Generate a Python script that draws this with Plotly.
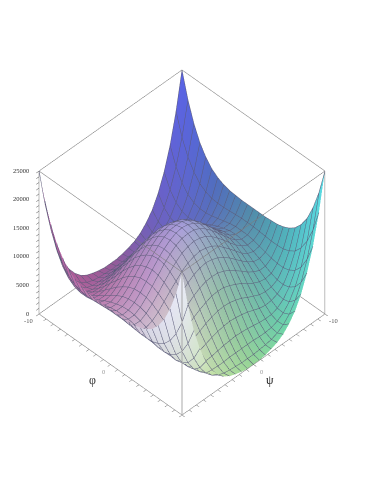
import numpy as np
import plotly.graph_objects as go

# Axis samples for one quadrant (0 .. 10), estimated surface heights
quad_axis = [0, 0.833, 1.667, 2.5, 3.333, 4.167, 5, 5.833, 6.667, 7.5, 8.333, 9.167, 10]
# rows: |phi|, columns: |psi|
z_quadrant = [
 [15100,14900,14400,13600,12600,11400,10100,8900,7900,7300,7200,7900,9600],
 [14800,14700,14200,13400,12400,11200,10000,8800,7800,7200,7200,7900,9600],
 [14200,14000,13600,12800,11800,10700,9500,8400,7500,6900,7000,7800,9600],
 [13200,13000,12600,11900,10900,9900,8800,7700,6900,6500,6700,7700,9700],
 [11900,11700,11300,10600,9800,8800,7800,6900,6200,6000,6400,7600,9800],
 [10200,10100,9700,9100,8300,7500,6600,5900,5400,5400,6100,7600,10100],
 [8400,8300,7900,7400,6800,6000,5400,4900,4700,4900,5900,7700,10600],
 [6500,6400,6100,5700,5100,4600,4100,3900,4000,4500,5900,8100,11400],
 [4600,4500,4300,4000,3600,3200,3000,3100,3500,4400,6200,8800,12700],
 [2800,2700,2600,2400,2200,2100,2100,2500,3300,4700,6900,10100,14500],
 [1300,1300,1300,1200,1200,1300,1700,2400,3600,5500,8200,12000,17100],
 [300,300,400,500,700,1100,1800,2900,4600,7000,10300,14700,20500],
 [0,0,200,500,900,1600,2700,4200,6400,9400,13300,18500,25000],
]
z_major = [0, 5000, 10000, 15000, 20000, 25000]
z_major_text = ["0", "5000", "10000", "15000", "20000", "25000"]
xy_tick_vals = [-10, -9, -8, -7, -6, -5, -4, -3, -2, -1, 0, 1, 2, 3, 4, 5, 6, 7, 8, 9, 10]

# Colour control points: rows phi -10..10, columns psi -10..10
colour_nodes = [-10, -5, 0, 5, 10]
colour_grid = [
 [(90,100,230),(115,95,185),(150,90,150),(170,90,150),(180,90,160)],
 [(80,110,190),(110,110,190),(140,120,190),(180,120,170),(190,110,170)],
 [(80,140,170),(120,150,180),(170,160,220),(190,150,200),(200,160,190)],
 [(80,180,190),(110,180,170),(150,190,170),(215,215,200),(215,215,230)],
 [(90,220,230),(110,215,170),(150,215,150),(190,225,160),(235,235,250)],
]

q = np.array(z_quadrant, float)
half = np.vstack([q[:0:-1], q])
Z = np.hstack([half[:, :0:-1], half])
qa = np.array(quad_axis)
axis = np.concatenate([-qa[:0:-1], qa])
n = len(axis)
PSI, PHI = np.meshgrid(axis, axis)   # rows phi, columns psi

# vertex colours
cg = np.array(colour_grid, float)
fr = np.interp(PHI.ravel(), colour_nodes, range(5))
fc = np.interp(PSI.ravel(), colour_nodes, range(5))
r0 = np.minimum(fr.astype(int), 3); c0 = np.minimum(fc.astype(int), 3)
tr = (fr - r0)[:, None]; tc = (fc - c0)[:, None]
col = (cg[r0, c0]*(1-tr)*(1-tc) + cg[r0+1, c0]*tr*(1-tc)
       + cg[r0, c0+1]*(1-tr)*tc + cg[r0+1, c0+1]*tr*tc)
vcolors = [f"rgb({int(a)},{int(b)},{int(c)})" for a, b, c in col]

idx = np.arange(n*n).reshape(n, n)
a = idx[:-1, :-1].ravel(); b = idx[:-1, 1:].ravel()
c = idx[1:, 1:].ravel(); d = idx[1:, :-1].ravel()
I = np.concatenate([a, a]); J = np.concatenate([b, c]); K = np.concatenate([c, d])

fig = go.Figure()
fig.add_trace(go.Mesh3d(x=PSI.ravel(), y=PHI.ravel(), z=Z.ravel(), i=I, j=J, k=K,
                        vertexcolor=vcolors, flatshading=False, hoverinfo="skip",
                        lighting=dict(ambient=1, diffuse=0, specular=0, fresnel=0, roughness=1)))

step = 20/(n-1)
line_style = dict(show=True, start=-10, end=10, size=step, color="rgba(40,40,70,0.8)", width=1,
                  highlight=False)
fig.add_trace(go.Surface(x=axis, y=axis, z=Z, hidesurface=True, showscale=False, hoverinfo="skip",
                         colorscale=[[0, "#888888"], [1, "#888888"]],
                         contours=dict(x=line_style, y=line_style)))

# Box frame: the twelve edges of the axis ranges, with the near vertical edge drawn heavier
xr, yr, zr = (-10, 10), (-10, 10), (0, 25000)
bx, by, bz = [], [], []
for v in yr:
    for w in zr:
        bx += [xr[0], xr[1], None]; by += [v, v, None]; bz += [w, w, None]
for u in xr:
    for w in zr:
        bx += [u, u, None]; by += [yr[0], yr[1], None]; bz += [w, w, None]
for u in xr:
    for v in yr:
        if (u, v) != (xr[1], yr[1]):
            bx += [u, u, None]; by += [v, v, None]; bz += [zr[0], zr[1], None]
fig.add_trace(go.Scatter3d(x=bx, y=by, z=bz, mode="lines", hoverinfo="skip", showlegend=False,
                           line=dict(color="#7c7c7c", width=1)))
fig.add_trace(go.Scatter3d(x=[xr[1], xr[1]], y=[yr[1], yr[1]], z=list(zr), mode="lines",
                           hoverinfo="skip", showlegend=False,
                           line=dict(color="#a8a8a8", width=2)))

z_vals = list(range(0, 25001, 1000))
base_axis = dict(showbackground=False, showgrid=False, zeroline=False, showspikes=False,
                 showline=True, linecolor="#7c7c7c", linewidth=1, mirror=True,
                 ticks="outside", ticklen=4, tickcolor="#777777", tickwidth=1,
                 showticklabels=False, title=dict(text=""))

# Labels placed in page pixels (the page body adds an 8 px offset to the figure)
W, H, OFF = 374, 484, 8
def label(text, px, py, size, color, anchor="center"):
    return dict(text=text, x=(px-OFF)/W, y=1-(py-OFF)/H, xref="paper", yref="paper",
                showarrow=False, xanchor=anchor, yanchor="middle",
                font=dict(family="Liberation Serif", size=size, color=color))

notes = [label("φ", 92, 380, 12, "#333333"), label("ψ", 270, 380, 12, "#222222"),
         label("-10", 28, 320, 6.5, "#555555"), label("-10", 333, 320, 6.5, "#555555"),
         label("0", 103, 371, 6.5, "#999999"), label("0", 261, 371, 6.5, "#999999")]
for v, t in zip(z_major, z_major_text):
    notes.append(label(t, 31, 313 - v/25000*143, 6.5, "#333333", anchor="right"))

S = 0.862
fig.update_layout(
    width=W, height=H, margin=dict(l=0, r=0, t=0, b=0),
    paper_bgcolor="white", showlegend=False,
    scene=dict(
        domain=dict(x=[0, 0.93], y=[0.03, 1]),
        aspectmode="manual", aspectratio=dict(x=S, y=S, z=S),
        xaxis=dict(base_axis, range=[-10, 10], tickmode="array", tickvals=xy_tick_vals),
        yaxis=dict(base_axis, range=[-10, 10], tickmode="array", tickvals=xy_tick_vals),
        zaxis=dict(base_axis, range=[0, 25000], tickmode="array", tickvals=z_vals,
                   ticklen=16, tickcolor="#444444"),
        camera=dict(projection=dict(type="orthographic"),
                    eye=dict(x=1.2, y=1.2, z=1.697), up=dict(x=0, y=0, z=1),
                    center=dict(x=0, y=0, z=0)),
    ),
    annotations=notes,
)
fig.write_html("out.html")
